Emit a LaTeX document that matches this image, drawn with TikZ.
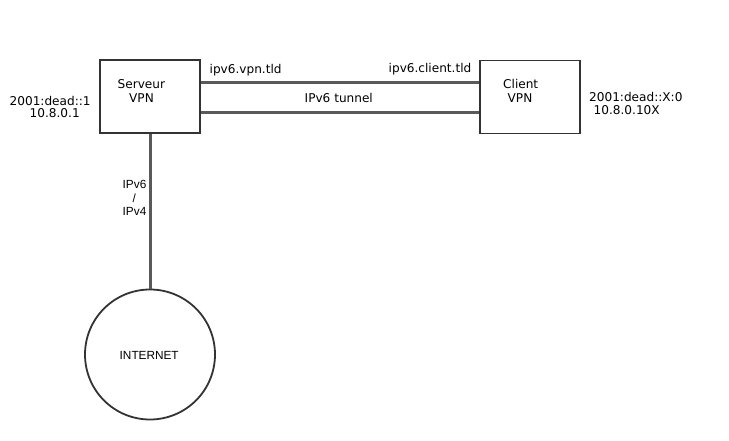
\documentclass[tikz,border=0pt]{standalone}
\usepackage{fontspec}
\setmainfont{DejaVu Sans}
\newfontfamily\arialf{Liberation Sans}
\begin{document}
\begin{tikzpicture}[x=1pt,y=-1pt,
  box/.style={draw=black!80,line width=1.8pt,minimum width=100pt,minimum height=73pt,inner sep=0pt},
  cloud/.style={circle,draw=black!80,line width=1.8pt,minimum size=130pt,inner sep=0pt},
  link/.style={draw=black!65,line width=3pt},
  lbl/.style={anchor=base west,inner sep=0pt,font=\fontsize{12.1}{13}\selectfont},
  albl/.style={anchor=base west,inner sep=0pt,font=\arialf\fontsize{11.8}{13}\selectfont}]
\useasboundingbox (0,0) rectangle (729,440);
\fill[white] (0,0) rectangle (729,440);
\node[box] (srv) at (150,96.5) {};
\node[box] (cli) at (530,97) {};
\node[cloud] (inet) at (150,354.5) {};
\draw[link] (srv.east |- 0,82.5) -- (cli.west |- 0,82.5);
\draw[link] (srv.east |- 0,112.5) -- (cli.west |- 0,112.5);
\draw[link] (srv.south) -- (inet.north);
\node[lbl] (s1) at (117.5,88.3) {Serveur};
\node[lbl] (s2) at (129,102.3) {VPN};
\node[lbl] (c1) at (503,88.3) {Client};
\node[lbl] (c2) at (507.5,102.3) {VPN};
\node[lbl] (a1) at (9.5,105) {2001:dead::1};
\node[lbl] (a2) at (29.5,117.3) {10.8.0.1};
\node[lbl] (b1) at (589,101.7) {2001:dead::X:0};
\node[lbl] (b2) at (593.5,114.3) {10.8.0.10X};
\node[lbl] (t1) at (209.5,73) {ipv6.vpn.tld};
\node[lbl] (t2) at (388.5,72) {ipv6.client.tld};
\node[lbl] (tun) at (304.5,102) {IPv6 tunnel};
\node[albl] (p1) at (122.5,188.3) {IPv6};
\node[albl] (p2) at (132.5,202.3) {/};
\node[albl] (p3) at (122.5,215.7) {IPv4};
\node[albl] (net) at (119.5,359.3) {INTERNET};
\end{tikzpicture}
\end{document}
